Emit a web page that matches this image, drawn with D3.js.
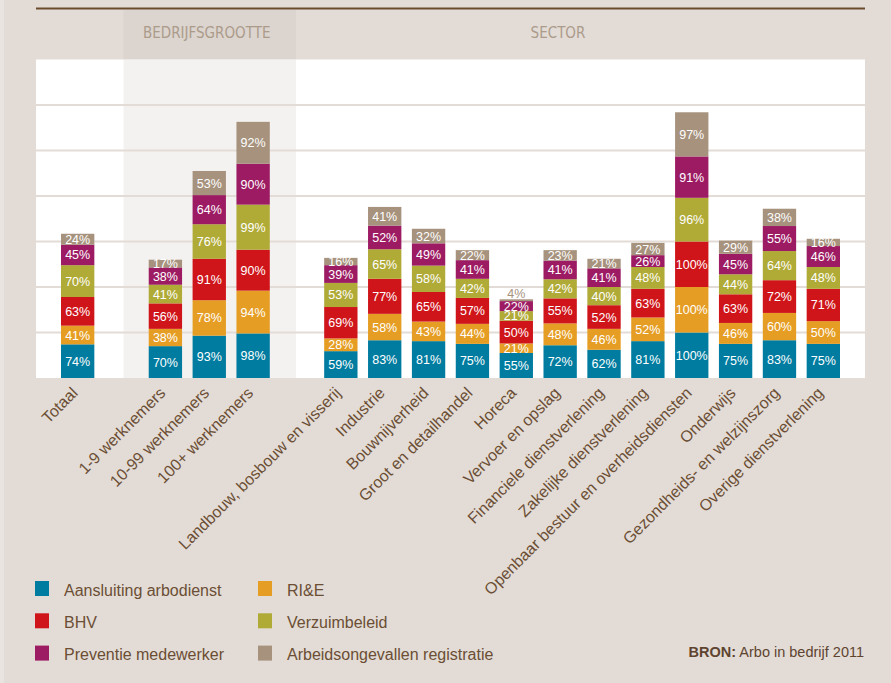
<!DOCTYPE html>
<html>
<head>
<meta charset="utf-8">
<script src="https://cdn.jsdelivr.net/npm/d3@7/dist/d3.min.js"></script>
<style>
  html, body { margin: 0; padding: 0; background: #e3dcd6; }
  svg { display: block; }
</style>
</head>
<body>
<svg id="chart" width="891" height="683"></svg>
<script>
// Categories along the x axis and the panel each belongs to
const categories = [
  "Totaal",
  "1-9 werknemers", "10-99 werknemers", "100+ werknemers",
  "Landbouw, bosbouw en visserij", "Industrie", "Bouwnijverheid",
  "Groot en detailhandel", "Horeca", "Vervoer en opslag",
  "Financiele dienstverlening", "Zakelijke dienstverlening",
  "Openbaar bestuur en overheidsdiensten", "Onderwijs",
  "Gezondheids- en welzijnszorg", "Overige dienstverlening"
];
const groups = [
  "totaal",
  "grootte", "grootte", "grootte",
  "sector", "sector", "sector", "sector", "sector", "sector",
  "sector", "sector", "sector", "sector", "sector", "sector"
];

// Percentages per measure (stacked bottom to top)
const aansluitingArbodienst = [74, 70, 93, 98, 59, 83, 81, 75, 55, 72, 62, 81, 100, 75, 83, 75];
const rie                   = [41, 38, 78, 94, 28, 58, 43, 44, 21, 48, 46, 52, 100, 46, 60, 50];
const bhv                   = [63, 56, 91, 90, 69, 77, 65, 57, 50, 55, 52, 63, 100, 63, 72, 71];
const verzuimbeleid         = [70, 41, 76, 99, 53, 65, 58, 42, 21, 42, 40, 48,  96, 44, 64, 48];
const preventieMedewerker   = [45, 38, 64, 90, 39, 52, 49, 41, 22, 41, 41, 26,  91, 45, 55, 46];
const arbeidsongevallen     = [24, 17, 53, 92, 16, 41, 32, 22,  4, 23, 21, 27,  97, 29, 38, 16];

const seriesNames = [
  "Aansluiting arbodienst", "RI&E", "BHV",
  "Verzuimbeleid", "Preventie medewerker", "Arbeidsongevallen registratie"
];
const seriesValues = [aansluitingArbodienst, rie, bhv, verzuimbeleid, preventieMedewerker, arbeidsongevallen];
const seriesColors = ["#007ca0", "#e59d24", "#cf151a", "#b0aa37", "#9c1b63", "#a6927d"];

const gridTicks = [100, 200, 300, 400, 500, 600];
const headerLabels = ["BEDRIJFSGROOTTE", "SECTOR"];
const sourceBold = "BRON:";
const sourceText = " Arbo in bedrijf 2011";

// Table for the stack layout
const table = categories.map((c, i) => {
  const row = { category: c };
  seriesNames.forEach((s, j) => { row[s] = seriesValues[j][i]; });
  return row;
});

// Slots along x: a blank slot separates the panels
const slots = [];
let gapCount = 0;
categories.forEach((c, i) => {
  if (i > 0 && groups[i] !== groups[i - 1]) slots.push("__gap" + (++gapCount));
  slots.push(c);
});

const svg = d3.select("#chart");
const W = 891, H = 683;
const panelLeft = 36, panelRight = 865, panelBottom = 378;

const x = d3.scaleBand().domain(slots).range([panelLeft, panelRight])
  .paddingInner(0.24).paddingOuter(0.57);
const y = d3.scaleLinear().domain([0, 700]).range([panelBottom, 59.5]);
const bw = x.bandwidth();
const cx = d => x(d) + bw / 2;

// Background
svg.append("rect").attr("width", W).attr("height", H).attr("fill", "#e3dcd6");
svg.append("rect").attr("width", 4).attr("height", H).attr("fill", "#e9e4df");

// Plot panel
svg.append("rect")
  .attr("x", panelLeft).attr("y", y(700))
  .attr("width", panelRight - panelLeft).attr("height", y(0) - y(700))
  .attr("fill", "#ffffff");

// Company-size band (header + plot)
const bandL = cx("__gap1") + 2, bandR = cx("__gap2") - 1;
svg.append("rect").attr("x", bandL).attr("y", 10).attr("width", bandR - bandL).attr("height", 49.5)
  .attr("fill", "#dcd4ce");
svg.append("rect").attr("x", bandL).attr("y", y(700)).attr("width", bandR - bandL)
  .attr("height", y(0) - y(700)).attr("fill", "#f4f2f0");

// Grid lines
svg.append("g").selectAll("line").data(gridTicks).join("line")
  .attr("x1", panelLeft).attr("x2", panelRight)
  .attr("y1", d => y(d)).attr("y2", d => y(d))
  .attr("stroke", "#e3dcd6").attr("stroke-width", 2);

// Top rule
svg.append("line").attr("x1", panelLeft).attr("x2", panelRight)
  .attr("y1", 8.5).attr("y2", 8.5).attr("stroke", "#6b4a2c").attr("stroke-width", 1.8);

// Panel headers
const headFont = "'Liberation Sans Narrow', 'Arial Narrow', 'DejaVu Sans Condensed', sans-serif";
svg.append("text").attr("x", (bandL + bandR) / 2 - 3).attr("y", 38)
  .attr("text-anchor", "middle").attr("font-family", headFont).attr("font-size", 15)
  .attr("fill", "#ab9b8b").text(headerLabels[0]);
svg.append("text").attr("x", 558).attr("y", 38)
  .attr("text-anchor", "middle").attr("font-family", headFont).attr("font-size", 15)
  .attr("fill", "#ab9b8b").text(headerLabels[1]);

// Stacked bars
const stacked = d3.stack().keys(seriesNames)(table);
const layers = svg.append("g").selectAll("g").data(stacked).join("g")
  .attr("fill", (d, i) => seriesColors[i]);
layers.selectAll("rect").data(d => d).join("rect")
  .attr("x", d => x(d.data.category))
  .attr("y", d => y(d[1]))
  .attr("width", bw)
  .attr("height", d => y(d[0]) - y(d[1]));

// Segment value labels
const labelFont = "'Liberation Sans', Arial, sans-serif";
stacked.forEach((layer, i) => {
  svg.append("g").selectAll("text").data(layer).join("text")
    .attr("x", d => cx(d.data.category))
    .attr("y", d => {
      const h = y(d[0]) - y(d[1]);
      return h < 5 ? y(d[1]) - 6 : (y(d[0]) + y(d[1])) / 2;
    })
    .attr("dy", "0.36em")
    .attr("text-anchor", "middle")
    .attr("font-family", labelFont).attr("font-size", 12.5)
    .attr("fill", d => (y(d[0]) - y(d[1]) < 5 ? seriesColors[i] : "#ffffff"))
    .text(d => (d[1] - d[0]) + "%");
});

// Rotated category labels
svg.append("g").selectAll("text").data(categories).join("text")
  .attr("transform", d => `translate(${cx(d) + 1},${panelBottom + 16}) rotate(-45)`)
  .attr("text-anchor", "end")
  .attr("font-family", labelFont).attr("font-size", 16)
  .attr("fill", "#6b4e34")
  .text(d => d);

// Legend
const legendFont = "'Liberation Sans', Arial, sans-serif";
const legend = svg.append("g").selectAll("g").data(seriesNames).join("g")
  .attr("transform", (d, i) => `translate(${i % 2 === 0 ? 35 : 258},${581 + Math.floor(i / 2) * 32.3})`);
legend.append("rect").attr("width", 14).attr("height", 15)
  .attr("fill", (d, i) => seriesColors[i]);
legend.append("text").attr("x", 29).attr("y", 14.5)
  .attr("font-family", legendFont).attr("font-size", 16)
  .attr("fill", "#6b4e34").text(d => d);

// Source line
const src = svg.append("text").attr("x", 864).attr("y", 657).attr("text-anchor", "end")
  .attr("font-family", legendFont).attr("font-size", 14.5).attr("fill", "#5e4430");
src.append("tspan").attr("font-weight", "bold").text(sourceBold);
src.append("tspan").text(sourceText);
</script>
</body>
</html>
